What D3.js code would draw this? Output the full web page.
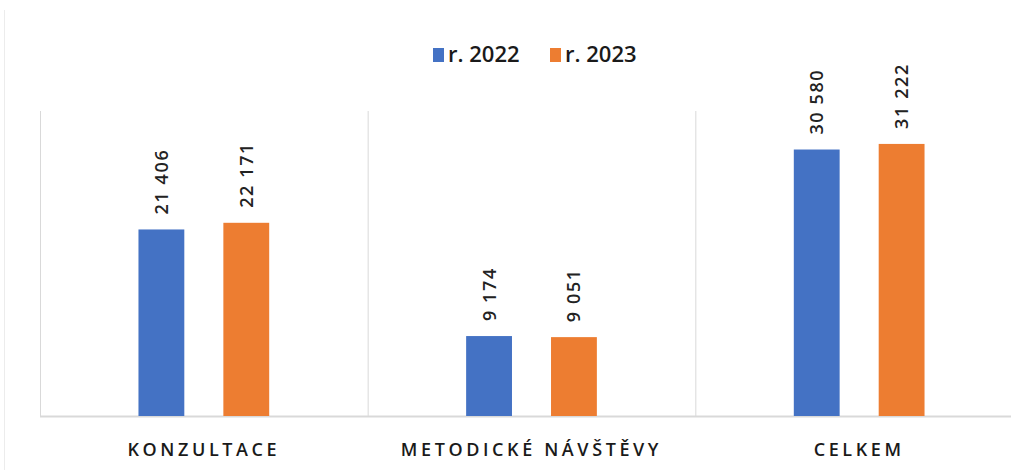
<!DOCTYPE html>
<html><head><meta charset="utf-8">
<script src="https://cdn.jsdelivr.net/npm/d3@7"></script>
<style>
body{margin:0;background:#fff;}
svg{display:block;}
</style></head>
<body>
<svg id="c" width="1011" height="470"></svg>
<script>
const categories = ["KONZULTACE", "METODICKÉ NÁVŠTĚVY", "CELKEM"];
const seriesNames = ["r. 2022", "r. 2023"];
const values2022 = [21406, 9174, 30580];
const values2023 = [22171, 9051, 31222];
const valueLabels2022 = ["21 406", "9 174", "30 580"];
const valueLabels2023 = ["22 171", "9 051", "31 222"];
const colors = ["#4472C4", "#ED7D31"];

(function(){
const svg = d3.select("#c");
const pLeft = 40, pRight = 1023, pTop = 111, pBottom = 416;

svg.append("line").attr("x1",4.5).attr("x2",4.5).attr("y1",10).attr("y2",470)
  .attr("stroke","#ececec").attr("stroke-width",1);

const x = d3.scaleBand().domain(categories).range([pLeft, pRight]).paddingInner(0).paddingOuter(0);
const x1 = d3.scaleBand().domain(seriesNames).range([0, x.bandwidth()]).paddingInner(0.46).paddingOuter(1.16);
const y = d3.scaleLinear().domain([0, 35000]).range([pBottom, pTop]);

const dividers = categories.map(c => x(c)).concat([pRight]);
svg.selectAll("line.div").data(dividers).enter().append("line")
  .attr("x1", d => d + 0.5).attr("x2", d => d + 0.5)
  .attr("y1", pTop).attr("y2", pBottom)
  .attr("stroke", "#d9d9d9").attr("stroke-width", 1);

svg.append("line").attr("x1", pLeft).attr("x2", 1011).attr("y1", pBottom + 0.5).attr("y2", pBottom + 0.5)
  .attr("stroke", "#d9d9d9").attr("stroke-width", 2);

const series = [values2022, values2023];
const labels = [valueLabels2022, valueLabels2023];
series.forEach((vals, si) => {
  const g = svg.append("g");
  g.selectAll("rect").data(categories).enter().append("rect")
    .attr("x", (c) => x(c) + x1(seriesNames[si]))
    .attr("width", x1.bandwidth())
    .attr("y", (c, i) => y(vals[i]))
    .attr("height", (c, i) => pBottom - y(vals[i]))
    .attr("fill", colors[si]);
  g.selectAll("text").data(categories).enter().append("text")
    .attr("transform", (c, i) => {
      const cx = x(c) + x1(seriesNames[si]) + x1.bandwidth() / 2;
      const cy = y(vals[i]) - 15;
      return `translate(${cx + 6.5},${cy}) rotate(-90)`;
    })
    .attr("text-anchor", "start")
    .style("font-family", "'Open Sans', sans-serif")
    .style("font-weight", "600")
    .style("font-size", "18px")
    .style("letter-spacing", "1.6px")
    .attr("fill", "#222")
    .text((c, i) => labels[si][i]);
});

svg.selectAll("text.cat").data(categories).enter().append("text")
  .attr("x", c => x(c) + x.bandwidth() / 2)
  .attr("y", 456)
  .attr("text-anchor", "middle")
  .style("font-family", "'Open Sans', sans-serif")
  .style("font-weight", "600")
  .style("font-size", "18px")
  .style("letter-spacing", "3.6px")
  .attr("fill", "#1a1a1a")
  .text(c => c);

const legendItems = [{x: 433, name: seriesNames[0], color: colors[0]}, {x: 550, name: seriesNames[1], color: colors[1]}];
const lg = svg.append("g");
legendItems.forEach(it => {
  lg.append("rect").attr("x", it.x).attr("y", 48).attr("width", 11).attr("height", 14).attr("fill", it.color);
  lg.append("text").attr("x", it.x + 15).attr("y", 62)
    .style("font-family", "'Open Sans', sans-serif")
    .style("font-weight", "600")
    .style("font-size", "22px")
    .attr("fill", "#1a1a1a")
    .text(it.name);
});
})();
</script>
</body></html>
